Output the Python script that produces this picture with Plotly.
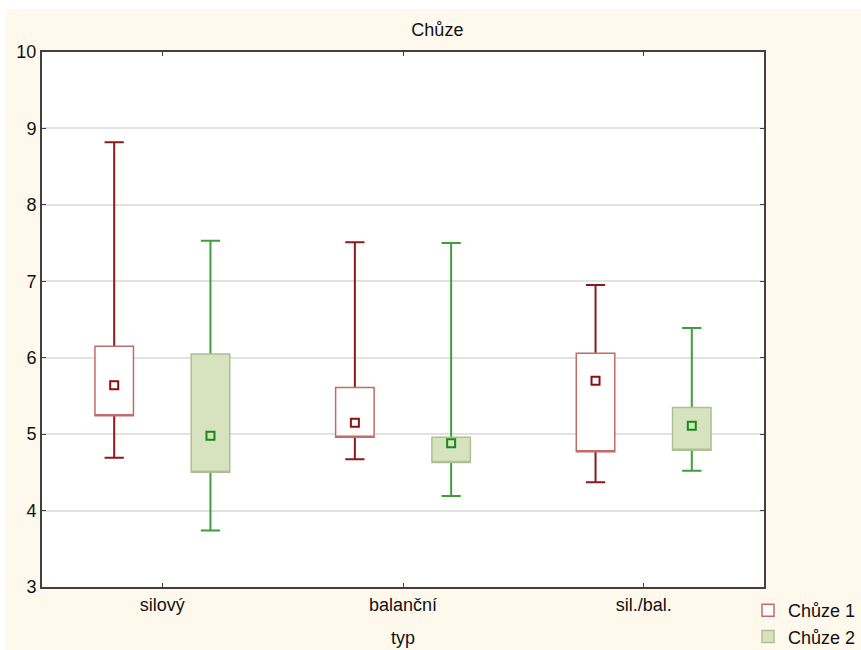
import plotly.graph_objects as go

categories = ["silový", "balanční", "sil./bal."]
series_names = ["Chůze 1", "Chůze 2"]

# per series: centre marker, box low/high, whisker low/high
c1_mid = [5.64, 5.15, 5.70]
c1_box_lo = [5.24, 4.96, 4.77]
c1_box_hi = [6.15, 5.61, 6.06]
c1_wh_lo = [4.69, 4.67, 4.37]
c1_wh_hi = [8.82, 7.51, 6.95]

c2_mid = [4.98, 4.88, 5.11]
c2_box_lo = [4.50, 4.63, 4.79]
c2_box_hi = [6.05, 4.96, 5.35]
c2_wh_lo = [3.74, 4.19, 4.52]
c2_wh_hi = [7.53, 7.50, 6.39]

y_ticks = [3, 4, 5, 6, 7, 8, 9, 10]

FONT = "Liberation Sans, Arial, sans-serif"
FS = 18
OFFSET = 0.2
BOXW = 0.16

styles = [
    dict(wh="#8B1A1A", edge="#C46A6A", fill="#FFFFFF", mk_line="#8B1010", mk_fill="#FFFFFF"),
    dict(wh="#3E9E3E", edge="#AEBF92", fill="#D7E3BE", mk_line="#178A17", mk_fill="#D7E3BE"),
]
data = [
    (c1_mid, c1_box_lo, c1_box_hi, c1_wh_lo, c1_wh_hi),
    (c2_mid, c2_box_lo, c2_box_hi, c2_wh_lo, c2_wh_hi),
]

fig = go.Figure()
idx = list(range(len(categories)))
for s, (name, st, (mid, blo, bhi, wlo, whi)) in enumerate(zip(series_names, styles, data)):
    xs = [i + (s - 0.5) * 2 * OFFSET for i in idx]
    # whiskers (collapsed box hidden under the box trace drawn next)
    fig.add_trace(go.Box(
        x=xs, q1=mid, median=mid, q3=mid, lowerfence=wlo, upperfence=whi,
        width=BOXW, whiskerwidth=0.5, line=dict(color=st["wh"], width=2),
        fillcolor=st["fill"], showlegend=False, hoverinfo="skip", boxpoints=False,
    ))
    # box
    fig.add_trace(go.Box(
        x=xs, q1=blo, median=blo, q3=bhi, lowerfence=blo, upperfence=bhi,
        width=BOXW, whiskerwidth=0, line=dict(color=st["edge"], width=1.5),
        fillcolor=st["fill"], name=name, showlegend=True, boxpoints=False,
    ))
    fig.add_trace(go.Scatter(
        x=xs, y=mid, mode="markers", showlegend=False,
        marker=dict(symbol="square", size=8, color=st["mk_fill"],
                    line=dict(color=st["mk_line"], width=2)),
    ))

W, H = 861, 650
L, R, T, B = 42, 97, 52, 63
pw, ph = W - L - R, H - T - B

fig.update_layout(
    width=W, height=H,
    margin=dict(l=L, r=R, t=T, b=B, autoexpand=False),
    paper_bgcolor="#FEF9EC",
    plot_bgcolor="#FFFFFF",
    font=dict(family=FONT, size=FS, color="#111111"),
    title=dict(text="Chůze", x=0.508, xref="container", xanchor="center",
               y=1 - 30 / H, yref="container", yanchor="middle",
               font=dict(size=FS)),
    showlegend=True,
    legend=dict(xref="container", yref="paper", x=1.0, xanchor="right",
                y=-(H - 6 - T - ph + 11) / ph, yanchor="bottom", bgcolor="rgba(0,0,0,0)",
                font=dict(size=FS), tracegroupgap=0, itemwidth=30),
    xaxis=dict(range=[-0.5, len(categories) - 0.5], tickvals=idx, ticktext=categories,
               showgrid=False, zeroline=False, showline=True, linecolor="#404040",
               linewidth=2, mirror="allticks", ticks="inside", ticklen=4,
               tickcolor="#404040", tickwidth=1,
               title=dict(text="typ", standoff=18, font=dict(size=FS))),
    yaxis=dict(range=[3, 10], tickvals=y_ticks, showgrid=True, gridcolor="#E2E2E2",
               gridwidth=2, zeroline=False, showline=True, linecolor="#404040",
               linewidth=2, mirror="allticks", ticks="inside", ticklen=4,
               tickcolor="#404040", tickwidth=1),
    shapes=[
        dict(type="rect", xref="paper", yref="paper", layer="below",
             x0=-L / pw, x1=(W - L) / pw, y0=1 + (T - 9) / ph, y1=1 + T / ph,
             fillcolor="#FFFFFF", line=dict(width=0)),
        dict(type="rect", xref="paper", yref="paper", layer="below",
             x0=-L / pw, x1=-(L - 6) / pw, y0=-B / ph, y1=1 + T / ph,
             fillcolor="#FFFFFF", line=dict(width=0)),
    ],
)

fig.write_html("out.html")
